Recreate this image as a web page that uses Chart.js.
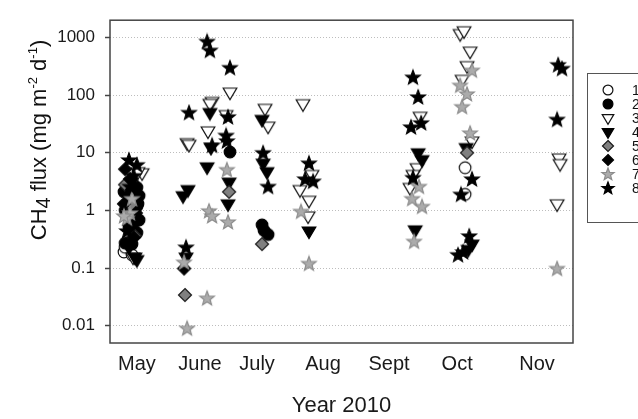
<!DOCTYPE html>
<html>
<head>
<meta charset="utf-8">
<script src="https://cdn.jsdelivr.net/npm/chart.js@4/dist/chart.umd.min.js"></script>
<style>
  html, body { margin: 0; padding: 0; background: #fff; overflow: hidden; }
  #fluxChart { display: block; }
</style>
</head>
<body>
<canvas id="fluxChart" width="638" height="419"></canvas>
<script>
// [day of year 2010, CH4 flux] for each site
const site1 = [[122.9, 0.21], [121.5, 0.19], [125.2, 0.17], [122.0, 0.23], [123.8, 0.28], [279.9, 5.5], [279.9, 1.9]];
const site2 = [[121.5, 2.1], [128.5, 1.8], [127.5, 1.17], [122.0, 1.0], [128.5, 0.68], [123.8, 0.5], [127.5, 0.41],
    [122.0, 0.27], [125.2, 0.26], [126.1, 1.5], [124.3, 3.0], [127.5, 2.5], [123.0, 0.8], [126.0, 0.6],
    [128.0, 1.3], [124.5, 1.9], [170.7, 10.3], [185.6, 0.56], [186.5, 0.45], [188.4, 0.38]];
const site3 = [[129.9, 4.5], [128.0, 4.7], [125.7, 0.155], [150.8, 15], [151.7, 14], [162.4, 78], [161.4, 72],
    [160.5, 24], [168.9, 46], [170.7, 113], [187.0, 59], [188.4, 29], [204.6, 71], [208.8, 4.2], [203.2, 2.3],
    [207.4, 1.5], [207.0, 0.8], [259.0, 43], [257.6, 5.5], [255.7, 4.2], [254.3, 2.5], [277.6, 1170],
    [279.4, 1310], [282.2, 580], [280.8, 325], [278.5, 188], [283.1, 16], [323.5, 8.1], [324.0, 6.5], [322.6, 1.3]];
const site4 = [[125.2, 1.4], [123.8, 0.23], [127.5, 0.14], [126.6, 0.155], [148.9, 1.8], [151.2, 2.3], [150.3, 0.155],
    [161.4, 50], [161.9, 12.4], [160.1, 5.7], [170.3, 3.1], [169.8, 1.3], [185.6, 38], [186.1, 6.6], [187.9, 4.7],
    [207.4, 0.44], [258.1, 10], [259.9, 7.6], [256.7, 0.46], [280.4, 12.3], [283.1, 0.26], [281.3, 0.21]];
const site5 = [[122.0, 2.8], [126.6, 0.36], [124.8, 1.2], [149.8, 0.034], [170.3, 2.1], [185.6, 0.26], [280.8, 10]];
const site6 = [[122.0, 5.2], [124.3, 3.5], [125.2, 2.3], [123.8, 0.56], [126.1, 0.34], [121.5, 1.3], [127.0, 0.9], [149.4, 0.098]];
const site7 = [[125.2, 1.6], [124.3, 0.9], [122.9, 0.73], [121.5, 0.8], [149.4, 0.126], [150.8, 0.009], [160.1, 0.030],
    [161.0, 0.98], [162.4, 0.8], [169.3, 5.1], [169.8, 0.63], [203.7, 0.96], [207.4, 0.12], [258.5, 2.6], [255.3, 1.6],
    [259.9, 1.17], [256.2, 0.29], [283.1, 270], [277.6, 148], [280.8, 105], [278.5, 63], [282.2, 22], [322.6, 0.098]];
const site8 = [[123.8, 7.5], [127.5, 6.2], [124.3, 2.6], [122.9, 0.44], [126.0, 4.0], [151.7, 50], [150.3, 0.23],
    [160.1, 855], [161.4, 600], [162.4, 13.5], [170.7, 300], [169.8, 42], [168.9, 20], [169.3, 16], [186.1, 10],
    [188.4, 2.6], [207.4, 6.6], [205.6, 3.5], [209.3, 3.2], [255.7, 205], [258.1, 93], [259.5, 33], [254.8, 28],
    [255.7, 3.7], [283.1, 3.5], [278.0, 1.9], [281.8, 0.36], [276.6, 0.17], [279.0, 0.19], [323.1, 337],
    [324.9, 290], [322.6, 38]];

const siteNames = ['1', '2', '3', '4', '5', '6', '7', '8'];
const monthLabels = ['May', 'June', 'July', 'Aug', 'Sept', 'Oct', 'Nov'];
const monthDays = [127.5, 156.8, 183.3, 213.9, 244.6, 276.2, 313.3];
const fluxTicks = [0.01, 0.1, 1, 10, 100, 1000];

const FONT = "'Liberation Sans', Arial, sans-serif";
const sites = [site1, site2, site3, site4, site5, site6, site7, site8];
const markerLook = [
    ['circle', '#ffffff', '#111111'],
    ['circle', '#000000', '#000000'],
    ['down', '#ffffff', '#111111'],
    ['down', '#000000', '#000000'],
    ['diamond', '#808080', '#1a1a1a'],
    ['diamond', '#000000', '#000000'],
    ['star', '#ababab', '#8c8c8c'],
    ['star', '#000000', '#000000']
];

function makeMarker(shape, fill, stroke, k) {
    const c = document.createElement('canvas');
    c.width = c.height = 18;
    const g = c.getContext('2d');
    const m = 9;
    g.beginPath();
    if (shape === 'circle') {
        g.arc(m, m, 5.8 * k, 0, Math.PI * 2);
    } else if (shape === 'down') {
        g.moveTo(m - 6.8 * k, m - 4 * k);
        g.lineTo(m + 6.8 * k, m - 4 * k);
        g.lineTo(m, m + 7.5 * k);
        g.closePath();
    } else if (shape === 'diamond') {
        g.moveTo(m, m - 6.5 * k);
        g.lineTo(m + 6.5 * k, m);
        g.lineTo(m, m + 6.5 * k);
        g.lineTo(m - 6.5 * k, m);
        g.closePath();
    } else {
        for (let i = 0; i < 10; i++) {
            const r = (i % 2 ? 3.2 : 7.6) * k;
            const a = -Math.PI / 2 + i * Math.PI / 5;
            g.lineTo(m + r * Math.cos(a), m + 0.5 + r * Math.sin(a));
        }
        g.closePath();
    }
    g.fillStyle = fill;
    g.fill();
    g.lineWidth = 1.2;
    g.strokeStyle = stroke;
    g.stroke();
    return c;
}

const pointMarkers = markerLook.map(([s, f, st]) => makeMarker(s, f, st, 1));
const legendMarkers = markerLook.map(([s, f, st]) => makeMarker(s, f, st, 0.85));

// box around the plot area
const framePlugin = {
    id: 'frame',
    afterDatasetsDraw(chart) {
        const { ctx, chartArea: a } = chart;
        ctx.save();
        ctx.strokeStyle = '#444';
        ctx.lineWidth = 1.5;
        ctx.strokeRect(a.left, a.top, a.right - a.left, a.bottom - a.top);
        ctx.restore();
    }
};

// rotated y title with sub/superscripts
const yTitleParts = [['CH', 0], ['4', -1], [' flux (mg m', 0], ['-2', 1], [' d', 0], ['-1', 1], [')', 0]];
const yTitlePlugin = {
    id: 'yTitle',
    afterDraw(chart) {
        const ctx = chart.ctx;
        const sizeOf = t => t === 0 ? 22 : (t < 0 ? 20 : 13);
        ctx.save();
        ctx.translate(38, 140);
        ctx.rotate(-Math.PI / 2);
        ctx.fillStyle = '#111';
        ctx.textBaseline = 'alphabetic';
        let total = 0;
        yTitleParts.forEach(([t, k]) => {
            ctx.font = sizeOf(k) + 'px ' + FONT;
            total += ctx.measureText(t).width;
        });
        let x = -total / 2;
        yTitleParts.forEach(([t, k]) => {
            ctx.font = sizeOf(k) + 'px ' + FONT;
            const dy = k === 0 ? 0 : (k < 0 ? 4 : -9);
            ctx.fillText(t, x, 8 + dy);
            x += ctx.measureText(t).width;
        });
        ctx.restore();
    }
};

// boxed legend on the right, partly cut by the image edge
const sideLegend = {
    id: 'sideLegend',
    afterDraw(chart) {
        const ctx = chart.ctx;
        ctx.save();
        ctx.strokeStyle = '#555';
        ctx.lineWidth = 1;
        ctx.strokeRect(587.5, 73.5, 90, 149);
        ctx.font = '14px ' + FONT;
        ctx.fillStyle = '#111';
        ctx.textBaseline = 'middle';
        siteNames.forEach((name, i) => {
            const y = 90 + i * 14;
            ctx.drawImage(legendMarkers[i], 608 - 9, y - 9);
            ctx.fillText(name, 632, y + 1);
        });
        ctx.restore();
    }
};

new Chart(document.getElementById('fluxChart'), {
    type: 'scatter',
    data: {
        datasets: sites.map((pts, i) => ({
            label: siteNames[i],
            data: pts.map(([day, flux]) => ({ x: day, y: flux })),
            pointStyle: pointMarkers[i],
            order: 8 - i
        }))
    },
    options: {
        responsive: false,
        animation: false,
        devicePixelRatio: 1,
        layout: { padding: { left: 0, right: 65, top: 11, bottom: 0 } },
        plugins: {
            legend: { display: false },
            tooltip: { enabled: false }
        },
        scales: {
            x: {
                type: 'linear',
                min: 115,
                max: 330,
                afterBuildTicks: s => { s.ticks = monthDays.map(v => ({ value: v })); },
                afterFit: s => { s.height = 76; },
                grid: { display: false, drawTicks: false },
                border: { display: false },
                ticks: {
                    autoSkip: false,
                    maxRotation: 0,
                    padding: 9,
                    color: '#1a1a1a',
                    font: { family: FONT, size: 20 },
                    callback: (v, i) => monthLabels[i]
                },
                title: {
                    display: true,
                    text: 'Year 2010',
                    color: '#1a1a1a',
                    font: { family: FONT, size: 22 },
                    padding: { top: 0, bottom: 0 }
                }
            },
            y: {
                type: 'logarithmic',
                min: 0.005,
                max: 2000,
                afterBuildTicks: s => { s.ticks = fluxTicks.map(v => ({ value: v })); },
                afterFit: s => { s.width = 110; },
                grid: {
                    color: '#bdbdbd',
                    lineWidth: 1,
                    tickLength: 5,
                    tickColor: '#444',
                    tickWidth: 1.5,
                    tickBorderDash: []
                },
                border: { display: false, dash: [1, 2] },
                ticks: {
                    padding: 10,
                    color: '#1a1a1a',
                    font: { family: FONT, size: 17 },
                    callback: v => String(v)
                }
            }
        }
    },
    plugins: [framePlugin, yTitlePlugin, sideLegend]
});
</script>
</body>
</html>
